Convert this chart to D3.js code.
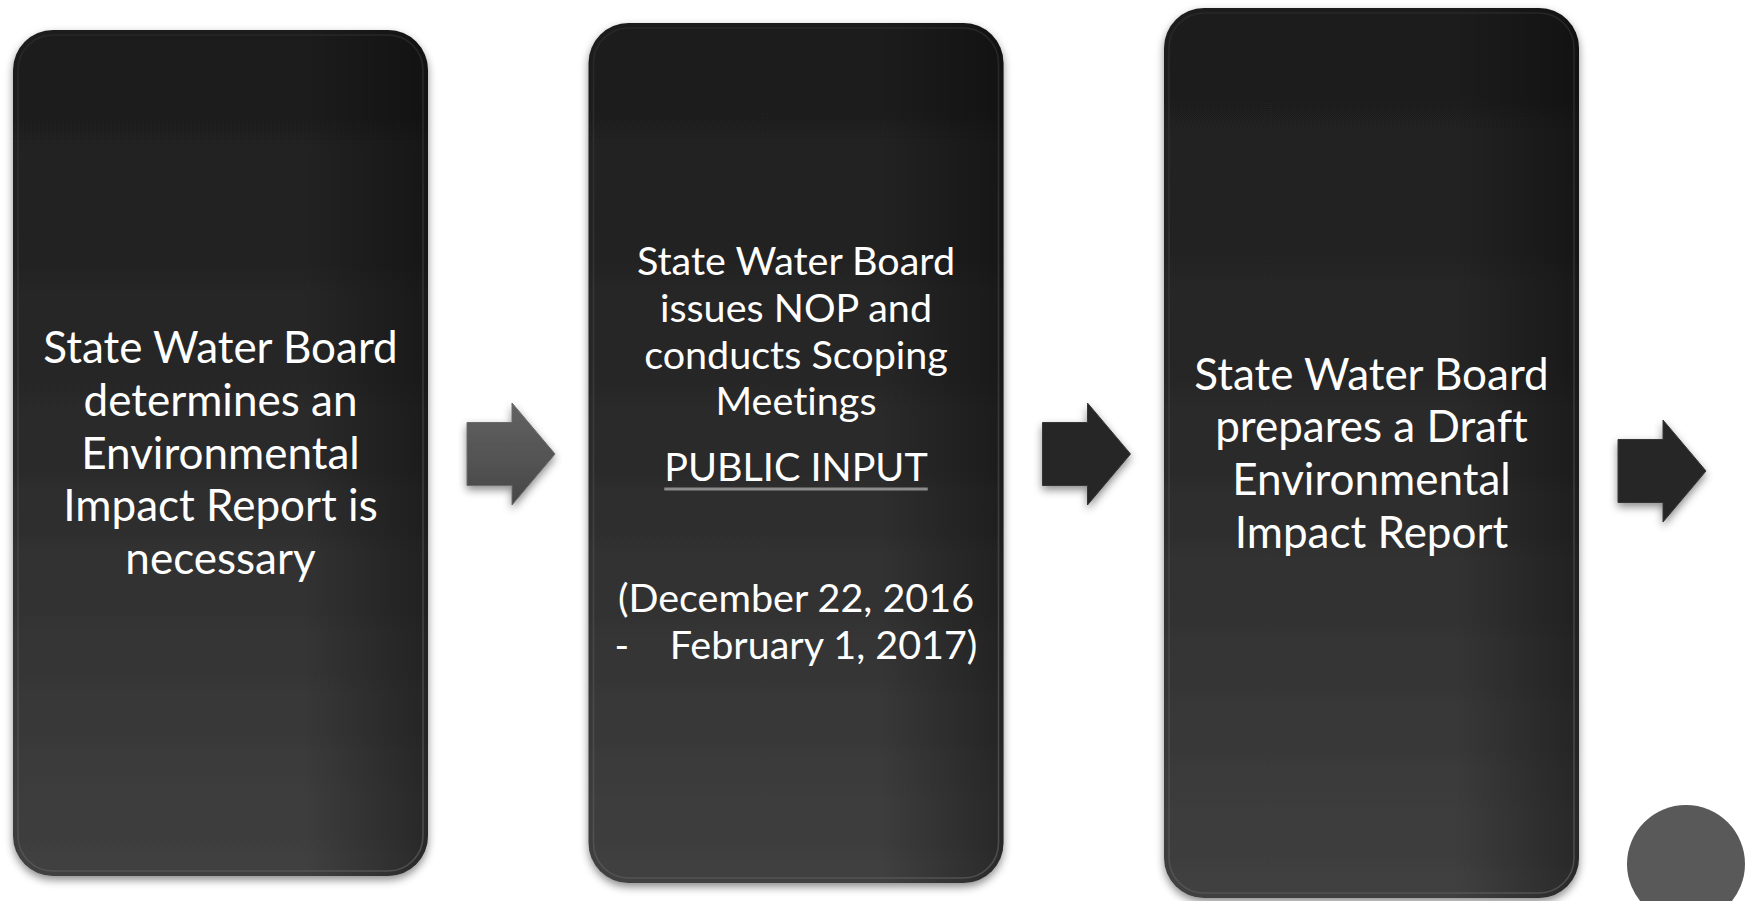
<!DOCTYPE html>
<html lang="en">
<head>
<meta charset="UTF-8">
<title>EIR process steps</title>
<style>
  html, body { margin: 0; padding: 0; background: #fff; }
  svg { display: block; }
  text { font-variant-ligatures: none; font-feature-settings: "liga" 0, "clig" 0; }
</style>
</head>
<body>
<div id="chart"></div>
<script src="https://d3js.org/d3.v7.min.js"></script>
<script>
// text of each step, one entry per line
const step1Text = ["State Water Board", "determines an", "Environmental", "Impact Report is", "necessary"];
const step2Text = ["State Water Board", "issues NOP and", "conducts Scoping", "Meetings",
  "PUBLIC INPUT", "", "(December 22, 2016", "-\u00a0\u00a0\u00a0\u00a0February 1, 2017)"];
const step2Para = [0, 0, 0, 0, 1, 2, 3, 3];   // paragraph of each line
const step3Text = ["State Water Board", "prepares a Draft", "Environmental", "Impact Report"];
const underlined = ["PUBLIC INPUT"];

const steps = [
  { text: step1Text, para: step1Text.map(() => 0), size: 44, lh: 52.7, h: 846 },
  { text: step2Text, para: step2Para, size: 39.5, lh: 46.7, h: 860 },
  { text: step3Text, para: step3Text.map(() => 0), size: 44, lh: 52.7, h: 890 }
];
const arrowDy = [0, 0, 17];   // third arrow sits a bit lower

const width = 1747, height = 901,
  boxW = 415, cy = 453, radius = 40, paraGap = 19;

// step index -> left edge of box
const x = d3.scaleLinear().domain([0, 1]).range([13, 588.5]);

const svg = d3.select("#chart").append("svg")
  .attr("width", width)
  .attr("height", height)
  .attr("viewBox", [0, 0, width, height]);

const defs = svg.append("defs");

const boxGrad = defs.append("linearGradient")
  .attr("id", "boxGrad").attr("x1", 0).attr("y1", 0).attr("x2", 0).attr("y2", 1);
boxGrad.selectAll("stop")
  .data([["0%", "#1c1c1c"], ["45%", "#292929"], ["100%", "#404040"]])
  .join("stop").attr("offset", d => d[0]).attr("stop-color", d => d[1]);

const sideGrad = defs.append("linearGradient")
  .attr("id", "sideGrad").attr("x1", 0).attr("y1", 0).attr("x2", 1).attr("y2", 0);
sideGrad.selectAll("stop")
  .data([["0%", 0], ["70%", 0], ["100%", 0.35]])
  .join("stop").attr("offset", d => d[0]).attr("stop-color", "#000").attr("stop-opacity", d => d[1]);

const edgeGrad = defs.append("linearGradient")
  .attr("id", "edgeGrad").attr("x1", 0).attr("y1", 0).attr("x2", 0).attr("y2", 1);
edgeGrad.selectAll("stop")
  .data([["0%", "#2a2a2a"], ["100%", "#585858"]])
  .join("stop").attr("offset", d => d[0]).attr("stop-color", d => d[1]);

const arrowGrad = defs.append("linearGradient")
  .attr("id", "arrowGrad").attr("x1", 0).attr("y1", 0).attr("x2", 0).attr("y2", 1);
arrowGrad.selectAll("stop")
  .data([["0%", "#626262"], ["100%", "#474747"]])
  .join("stop").attr("offset", d => d[0]).attr("stop-color", d => d[1]);

const shadow = defs.append("filter").attr("id", "shadow")
  .attr("x", "-10%").attr("y", "-10%").attr("width", "120%").attr("height", "120%");
shadow.append("feDropShadow")
  .attr("dx", 0).attr("dy", 4).attr("stdDeviation", 4)
  .attr("flood-color", "#000").attr("flood-opacity", 0.45);

// boxes
const box = svg.append("g")
  .selectAll("g")
  .data(steps)
  .join("g")
  .attr("transform", (d, i) => `translate(${x(i)},${cy - d.h / 2})`);

box.append("rect")
  .attr("width", boxW).attr("height", d => d.h)
  .attr("rx", radius).attr("ry", radius)
  .attr("fill", "url(#boxGrad)")
  .attr("filter", "url(#shadow)");

box.append("rect")
  .attr("width", boxW).attr("height", d => d.h)
  .attr("rx", radius).attr("ry", radius)
  .attr("fill", "url(#sideGrad)");

box.append("rect")
  .attr("x", 5).attr("y", 5)
  .attr("width", boxW - 10).attr("height", d => d.h - 10)
  .attr("rx", radius - 5).attr("ry", radius - 5)
  .attr("fill", "none")
  .attr("stroke", "url(#edgeGrad)")
  .attr("stroke-width", 1.5)
  .attr("opacity", 0.8);

// text, centred on the box middle
box.each(function(d) {
  const g = d3.select(this);
  const cap = d.size * 0.717;
  const offs = d.text.map((t, i) => i * d.lh + d.para[i] * paraGap);
  const last = offs[offs.length - 1];
  const y0 = d.h / 2 - (last + cap) / 2 + cap;

  const txt = g.selectAll("text")
    .data(d.text.map((t, i) => ({ t, y: y0 + offs[i] })))
    .join("text")
    .attr("x", boxW / 2)
    .attr("y", l => l.y)
    .attr("text-anchor", "middle")
    .attr("fill", "#fff")
    .attr("font-family", "Lato, 'Open Sans', sans-serif")
    .attr("font-size", d.size)
    .style("white-space", "pre")
    .text(l => l.t);

  txt.filter(l => underlined.includes(l.t)).each(function(l) {
    const w = this.getComputedTextLength();
    g.append("line")
      .attr("x1", boxW / 2 - w / 2).attr("x2", boxW / 2 + w / 2)
      .attr("y1", l.y + 8).attr("y2", l.y + 8)
      .attr("stroke", "#8c8c8c").attr("stroke-width", 3);
  });
});

// arrows between steps
const arrowPath = "M0,-31.5 H45 V-51 L88,0 L45,51 V31.5 H0 Z";
svg.append("g")
  .selectAll("path")
  .data(steps)
  .join("path")
  .attr("d", arrowPath)
  .attr("transform", (d, i) => `translate(${x(i) + boxW + 39},${cy + 1 + arrowDy[i]})`)
  .attr("fill", (d, i) => i === 0 ? "url(#arrowGrad)" : "#282828")
  .attr("stroke", (d, i) => i === 0 ? "#6a6a6a" : "#363636")
  .attr("stroke-width", 1)
  .attr("filter", "url(#shadow)");

// slide number disc
svg.append("circle")
  .attr("cx", 1686).attr("cy", 864).attr("r", 59)
  .attr("fill", "#595959");
</script>
</body>
</html>
